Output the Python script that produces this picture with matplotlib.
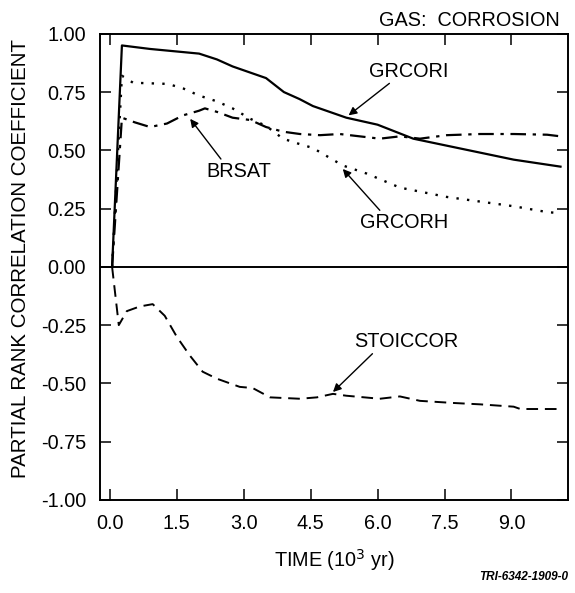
import matplotlib.pyplot as plt

plt.rcParams['font.family'] = ['Liberation Sans', 'DejaVu Sans']

# time in 10^3 yr
t_grcori = [0.05, 0.27, 0.9, 2.0, 2.4, 2.75, 3.5, 3.9, 4.25, 4.55, 5.3, 6.0, 6.8, 7.55, 8.3, 9.05, 10.1]
grcori = [0.0, 0.95, 0.935, 0.915, 0.89, 0.86, 0.81, 0.75, 0.72, 0.69, 0.64, 0.61, 0.55, 0.52, 0.49, 0.46, 0.43]

t_grcorh = [0.05, 0.27, 0.52, 1.3, 1.65, 2.0, 2.4, 2.75, 3.15, 3.5, 3.88, 4.2, 4.55, 5.22, 5.76, 6.5, 7.55, 8.3, 9.05, 9.8, 10.1]
grcorh = [0.0, 0.82, 0.79, 0.785, 0.765, 0.735, 0.71, 0.68, 0.635, 0.605, 0.55, 0.53, 0.51, 0.435, 0.40, 0.34, 0.30, 0.28, 0.26, 0.235, 0.23]

t_brsat = [0.05, 0.27, 0.56, 0.9, 1.28, 1.64, 2.0, 2.13, 2.4, 2.75, 3.15, 3.5, 3.88, 4.26, 4.71, 5.15, 5.6, 6.05, 6.5, 6.95, 7.55, 8.3, 9.05, 9.8, 10.1]
brsat = [0.0, 0.64, 0.62, 0.60, 0.615, 0.65, 0.67, 0.68, 0.665, 0.64, 0.63, 0.60, 0.58, 0.57, 0.565, 0.57, 0.56, 0.55, 0.56, 0.55, 0.565, 0.57, 0.57, 0.567, 0.56]

t_stoiccor = [0.05, 0.2, 0.38, 0.67, 0.96, 1.23, 1.5, 1.79, 2.08, 2.4, 2.91, 3.2, 3.59, 4.26, 4.64, 5.0, 5.3, 6.05, 6.5, 6.95, 7.69, 8.3, 9.05, 9.2, 10.1]
stoiccor = [0.0, -0.25, -0.19, -0.17, -0.16, -0.21, -0.30, -0.38, -0.45, -0.48, -0.515, -0.52, -0.56, -0.566, -0.56, -0.545, -0.553, -0.566, -0.556, -0.575, -0.584, -0.59, -0.60, -0.61, -0.61]

xticks = [0.0, 1.5, 3.0, 4.5, 6.0, 7.5, 9.0]
yticks = [1.0, 0.75, 0.5, 0.25, 0.0, -0.25, -0.5, -0.75, -1.0]

fs = 14.3

fig = plt.figure(figsize=(5.75, 5.93), dpi=100)
ax = fig.add_axes([0.174, 0.157, 0.814, 0.786])

ax.plot(t_grcori, grcori, color='black', lw=1.6, linestyle='-')
ax.plot(t_grcorh, grcorh, color='black', lw=1.7, linestyle=(0, (1, 3.5)))
ax.plot(t_brsat, brsat, color='black', lw=1.6, linestyle=(0, (7, 3, 1.5, 3)))
ax.plot(t_stoiccor, stoiccor, color='black', lw=1.4, linestyle=(0, (6, 3.5)))
ax.axhline(0, color='black', lw=1.4)

arrow = dict(arrowstyle='-|>', color='black', lw=1.0, mutation_scale=12, shrinkA=0, shrinkB=0)
ax.annotate('GRCORI', xy=(5.35, 0.65), xytext=(6.7, 0.84), ha='center', va='center',
            fontsize=fs, arrowprops=dict(arrow, relpos=(0.3, 0.0)))
ax.annotate('GRCORH', xy=(5.22, 0.42), xytext=(6.6, 0.19), ha='center', va='center',
            fontsize=fs, arrowprops=dict(arrow, relpos=(0.25, 1.0)))
ax.annotate('BRSAT', xy=(1.8, 0.635), xytext=(2.9, 0.41), ha='center', va='center',
            fontsize=fs, arrowprops=dict(arrow, relpos=(0.25, 1.0)))
ax.annotate('STOICCOR', xy=(5.0, -0.537), xytext=(6.65, -0.32), ha='center', va='center',
            fontsize=fs, arrowprops=dict(arrow, relpos=(0.2, 0.0)))

ax.set_xlim(-0.22, 10.27)
ax.set_ylim(-1.0, 1.0)
ax.set_xticks(xticks)
ax.set_xticklabels([f'{v:.1f}' for v in xticks])
ax.set_yticks(yticks)
ax.set_yticklabels([f'{v:.2f}' for v in yticks])
ax.tick_params(direction='in', length=8, width=1.1, labelsize=fs,
               top=True, right=True)
ax.tick_params(axis='x', pad=10)
ax.tick_params(axis='y', pad=10)
for s in ax.spines.values():
    s.set_linewidth(1.4)

ax.set_xlabel('TIME (10$^3$ yr)', fontsize=fs, labelpad=10)
ax.set_ylabel('PARTIAL RANK CORRELATION COEFFICIENT', fontsize=14.8)
ax.yaxis.set_label_coords(-0.15, 0.517)

fig.text(0.974, 0.956, 'GAS:  CORROSION', ha='right', va='baseline', fontsize=fs)
fig.text(0.988, 0.017, 'TRI-6342-1909-0', ha='right', va='bottom',
         fontsize=8.5, fontweight='bold', fontstyle='italic')

fig.savefig('out.png', dpi=100)
